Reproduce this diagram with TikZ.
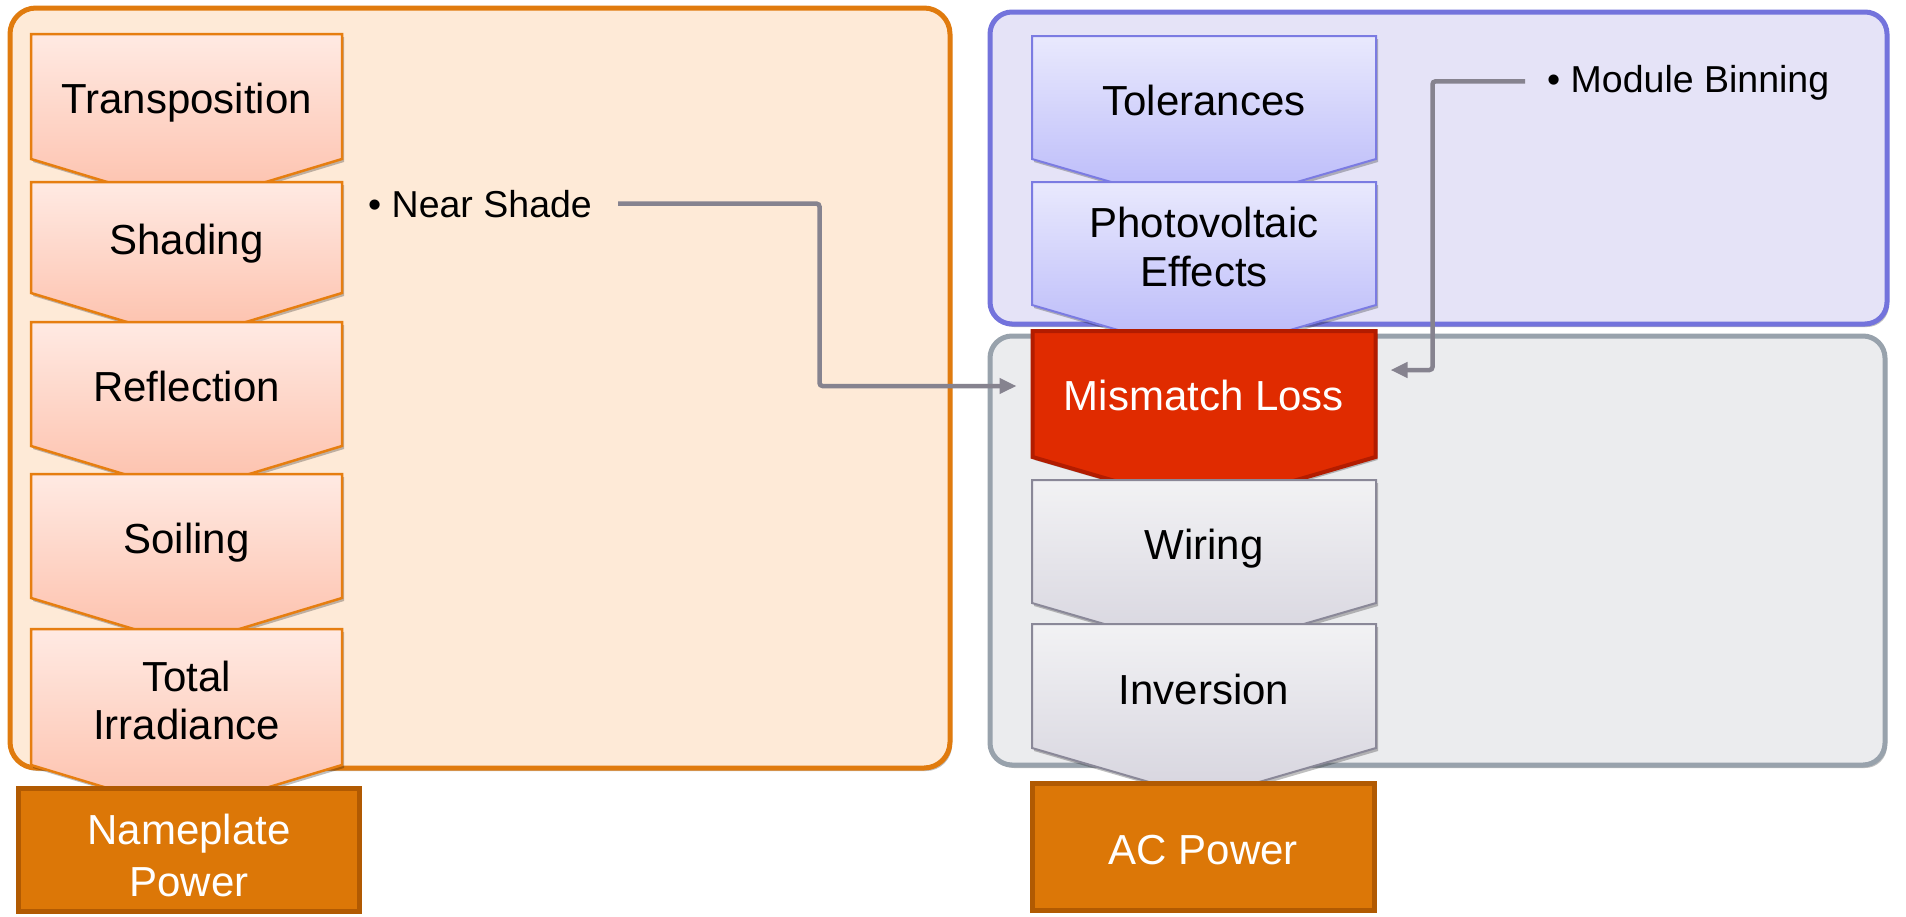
\documentclass[tikz,border=0pt]{standalone}
\usepackage{fontspec}
\setmainfont{Liberation Sans}
\usetikzlibrary{arrows.meta,shadows,calc}
\pgfdeclarelayer{panels}
\pgfdeclarelayer{chevs}
\pgfsetlayers{panels,chevs,main}

\definecolor{orPanelF}{HTML}{FEEAD7}
\definecolor{orPanelD}{HTML}{E07B0E}
\definecolor{puPanelF}{HTML}{E5E3F7}
\definecolor{puPanelD}{HTML}{7373DC}
\definecolor{grPanelF}{HTML}{EBECEE}
\definecolor{grPanelD}{HTML}{98A2AC}
\definecolor{orTop}{HTML}{FFEAE3}
\definecolor{orBot}{HTML}{FDBFAA}
\definecolor{orLine}{HTML}{E67E10}
\definecolor{puTop}{HTML}{E9E9FD}
\definecolor{puBot}{HTML}{B7B7F9}
\definecolor{puLine}{HTML}{7B7BE2}
\definecolor{grTop}{HTML}{F2F2F4}
\definecolor{grBot}{HTML}{D6D4DE}
\definecolor{grLine}{HTML}{8A8898}
\definecolor{redF}{HTML}{E02B00}
\definecolor{redD}{HTML}{B21C00}
\definecolor{outF}{HTML}{DC7707}
\definecolor{outD}{HTML}{B15A02}
\definecolor{lnC}{HTML}{86838F}

% geometry node + chevron outline on the chevs layer
\newcommand{\chev}[7]{% name, x, y, w, h, tip depth, style
  \node[geo, minimum width=#4pt, minimum height=#5pt] (#1) at (#2,#3) {};
  \begin{pgfonlayer}{chevs}
    \path[#7] (#1.north west) -- (#1.north east) -- (#1.south east)
      -- ($(#1.south)+(0,#6)$) -- (#1.south west) -- cycle;
  \end{pgfonlayer}}

\tikzset{
  geo/.style={inner sep=0pt, outer sep=0pt},
  lbl/.style={font=\fontsize{42}{49}\selectfont, align=center, inner sep=0pt, text=black},
  lblone/.style={lbl, text height=33.6pt, text depth=3.5pt},
  bul/.style={font=\fontsize{37.5}{44}\selectfont, inner sep=0pt, anchor=base west, text=black},
  shad/.style={drop shadow={shadow xshift=2pt,shadow yshift=-3pt,opacity=.25,fill=black}},
  orchev/.style={shad, top color=orTop, bottom color=orBot, draw=orLine, line width=2.5pt, line join=miter},
  puchev/.style={shad, top color=puTop, bottom color=puBot, draw=puLine, line width=2pt, line join=miter},
  grchev/.style={shad, top color=grTop, bottom color=grBot, draw=grLine, line width=2pt, line join=miter},
  redchev/.style={shad, fill=redF, draw=redD, line width=4pt, line join=miter},
  outbox/.style={geo, fill=outF, draw=outD, line width=5pt},
  panel/.style={line width=5pt, rounded corners=26pt, shad},
  conn/.style={draw=lnC, line width=4.5pt, rounded corners=3pt, -{Triangle[length=17pt,width=15pt]}}
}

\begin{document}
\begin{tikzpicture}[x=1pt,y=-1pt]
\useasboundingbox (0,0) rectangle (1906,916);

% panels
\begin{pgfonlayer}{panels}
  \fill[white] (0,0) rectangle (1906,916);
  \path[panel, fill=orPanelF, draw=orPanelD] (10,8) rectangle (950,768);
  \path[panel, fill=puPanelF, draw=puPanelD, rounded corners=22pt] (990,12) rectangle (1887,324);
  \path[panel, fill=grPanelF, draw=grPanelD, rounded corners=22pt] (990,336) rectangle (1885,765);
\end{pgfonlayer}

% left column
\chev{tr}{186.5}{96.5}{311}{125}{47}{orchev}
\node[lblone] (trT) at ($(tr)+(0,2)$) {Transposition};
\chev{sh}{186.5}{237.5}{311}{111}{47}{orchev}
\node[lblone] (shT) at ($(sh)+(0,2)$) {Shading};
\chev{re}{186.5}{384}{311}{124}{47}{orchev}
\node[lblone] (reT) at ($(re)+(0,2)$) {Reflection};
\chev{so}{186.5}{536}{311}{124}{47}{orchev}
\node[lblone] (soT) at ($(so)+(0,2)$) {Soiling};
\chev{ti}{186.5}{697}{311}{136}{47}{orchev}
\node[lbl, font=\fontsize{42}{48}\selectfont] (tiT) at ($(ti)+(0,3)$) {Total\\Irradiance};
\node[outbox, minimum width=341pt, minimum height=123pt] (np) at (189,850) {};
\node[lbl, text=white, font=\fontsize{42}{52}\selectfont] (npT) at ($(np)+(0,5)$) {Nameplate\\Power};

% right column
\chev{to}{1204}{97.5}{344}{123}{50}{puchev}
\node[lblone] (toT) at ($(to)+(0,2.5)$) {Tolerances};
\chev{pv}{1204}{243.5}{344}{123}{50}{puchev}
\node[lbl] (pvT) at ($(pv)+(0,3)$) {Photovoltaic\\Effects};
\chev{mm}{1204}{394}{343}{126}{50}{redchev}
\node[lblone, text=white] (mmT) at ($(mm)+(0,1)$) {Mismatch Loss};
\chev{wi}{1204}{541.5}{344}{123}{50}{grchev}
\node[lblone] (wiT) at ($(wi)+(0,2.5)$) {Wiring};
\chev{in}{1204}{686}{344}{124}{50}{grchev}
\node[lblone] (inT) at ($(in)+(0,3)$) {Inversion};
\node[outbox, minimum width=342pt, minimum height=127pt] (ac) at (1203.5,847) {};
\node[lblone, text=white] (acT) at ($(ac)+(0,2.5)$) {AC Power};

% side notes
\node[bul] (ns) at (368,217) {\textbullet\ Near Shade};
\node[bul] (mb) at (1547,92) {\textbullet\ Module Binning};

% connectors
\coordinate (nsbend) at ($(mm.west)+(-213,-8)$);
\draw[conn] ($(ns.east)+(26,0)$) -| (nsbend) -- ($(mm.west)+(-16,-8)$);
\coordinate (mbbend) at ($(mm.east)+(57,-24)$);
\draw[conn] ($(mb.west)+(-22,-1)$) -| (mbbend) -- ($(mm.east)+(15,-24)$);
\end{tikzpicture}
\end{document}
